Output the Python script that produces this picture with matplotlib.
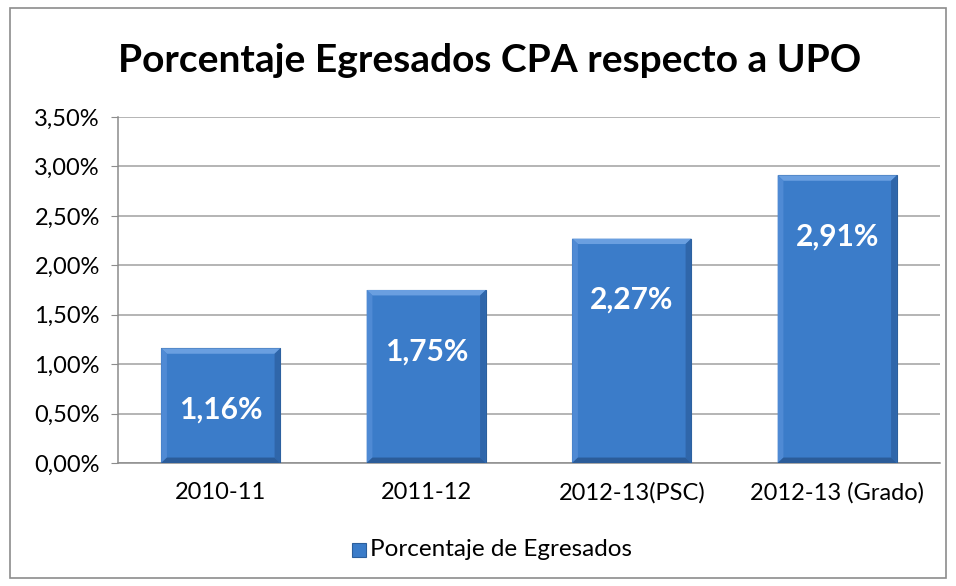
import matplotlib.pyplot as plt
from matplotlib.patches import Polygon, Rectangle
from matplotlib.ticker import FuncFormatter

categories = ['2010-11', '2011-12', '2012-13(PSC)', '2012-13 (Grado)']
values = [1.16, 1.75, 2.27, 2.91]
labels = ['1,16%', '1,75%', '2,27%', '2,91%']
yticks = [0.0, 0.5, 1.0, 1.5, 2.0, 2.5, 3.0, 3.5]

plt.rcParams['font.family'] = ['Lato', 'DejaVu Sans']

fig = plt.figure(figsize=(9.56, 5.86), dpi=100)
ax = fig.add_axes([118 / 956, 1 - 463 / 586, (940 - 118) / 956, (463 - 117) / 586])

# outer chart border
fig.patches.append(Rectangle((10 / 956, 8 / 586), 936 / 956, 570 / 586,
                             transform=fig.transFigure, fill=False,
                             edgecolor='#8c8c8c', linewidth=1.2))

width = 0.58
bars = ax.bar(range(len(values)), values, width=width, color='#3b7cc9',
              edgecolor='#2c5f9c', linewidth=0.8, zorder=3)

# bevel effect on each bar
bx = 0.028
by = 0.055
for b in bars:
    x0, x1 = b.get_x(), b.get_x() + b.get_width()
    y0, y1 = 0, b.get_height()
    faces = [
        ([(x0, y1), (x1, y1), (x1 - bx, y1 - by), (x0 + bx, y1 - by)], '#6a9fe0'),
        ([(x0, y0), (x0, y1), (x0 + bx, y1 - by), (x0 + bx, y0 + by)], '#4f8ad4'),
        ([(x1, y0), (x1, y1), (x1 - bx, y1 - by), (x1 - bx, y0 + by)], '#2f66aa'),
        ([(x0, y0), (x1, y0), (x1 - bx, y0 + by), (x0 + bx, y0 + by)], '#2b5c99'),
    ]
    for pts, c in faces:
        ax.add_patch(Polygon(pts, closed=True, facecolor=c, edgecolor='none', zorder=4))

for i, (v, lab) in enumerate(zip(values, labels)):
    ax.text(i, v - 0.62, lab, ha='center', va='center', color='white',
            fontsize=21.5, fontweight='bold', zorder=5)

ax.set_xlim(-0.5, len(values) - 0.5)
ax.set_ylim(0, 3.5)
ax.set_yticks(yticks)
ax.yaxis.set_major_formatter(FuncFormatter(lambda v, p: f'{v:.2f}%'.replace('.', ',')))
ax.set_xticks(range(len(categories)))
ax.set_xticklabels(categories)
ax.tick_params(axis='x', length=0, pad=14, labelsize=17)
ax.tick_params(axis='y', length=5, color='#8c8c8c', pad=8, labelsize=17)
ax.grid(axis='y', color='#a0a0a0', linewidth=1.1, zorder=0)
for s in ['top', 'right']:
    ax.spines[s].set_visible(False)
for s in ['left', 'bottom']:
    ax.spines[s].set_color('#8c8c8c')
    ax.spines[s].set_linewidth(1.1)

fig.text(490 / 956, 1 - 60 / 586, 'Porcentaje Egresados CPA respecto a UPO',
         ha='center', va='center', fontsize=28, fontweight='bold')

# legend
fig.patches.append(Rectangle((352 / 956, 1 - 557 / 586), 14 / 956, 14 / 586,
                             transform=fig.transFigure, facecolor='#3b7cc9',
                             edgecolor='#2c5f9c', linewidth=0.8))
fig.text(370 / 956, 1 - 550 / 586, 'Porcentaje de Egresados',
         ha='left', va='center', fontsize=17.5)

fig.savefig('out.png', dpi=100)
